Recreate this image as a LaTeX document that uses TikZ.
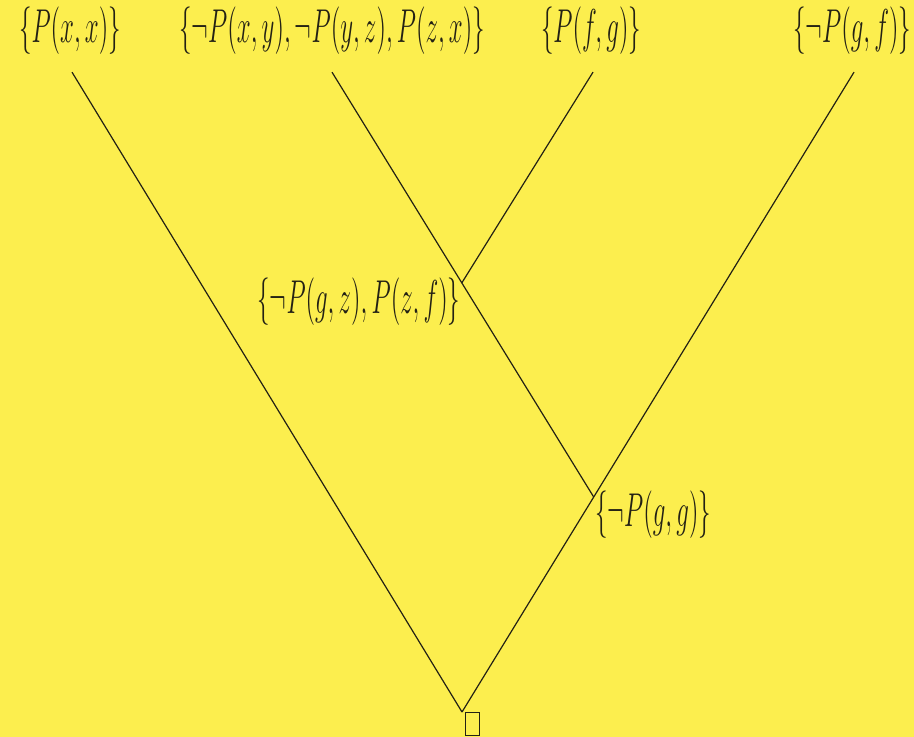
\documentclass[tikz,border=0pt]{standalone}
\usepackage{graphicx}
\usetikzlibrary{calc}
\definecolor{paper}{RGB}{252,238,78}
\definecolor{ink}{RGB}{35,33,20}
\newcommand{\clauseset}[1]{\scalebox{1.04}[1.98]{$\{#1\}$}}

\begin{document}
\begin{tikzpicture}[x=0.5pt, y=-0.5pt,
    clause/.style={font=\fontsize{12}{14}\selectfont, text=ink, inner sep=0pt},
    edge/.style={draw=ink, line width=0.6pt}]
  % background
  \fill[paper] (0,0) rectangle (914,737);
  \useasboundingbox (0,0) rectangle (914,737);

  % input clauses
  \node[clause] (px) at (70,31) {\clauseset{P(x,x)}};
  \node[clause] (trans) at (332,31) {\clauseset{\neg P(x,y), \neg P(y,z), P(z,x)}};
  \node[clause] (pfg) at (591,31) {\clauseset{P(f,g)}};
  \node[clause] (npgf) at (852,31) {\clauseset{\neg P(g,f)}};

  % line ends below the clauses
  \coordinate (pxfoot) at ($(px.south)+(2,17)$);
  \coordinate (transfoot) at ($(trans.south)+(0,17)$);
  \coordinate (pfgfoot) at ($(pfg.south)+(2,17)$);
  \coordinate (npgffoot) at ($(npgf.south)+(2,17)$);

  % resolvents
  \coordinate (root) at (462,712);
  \coordinate (j2) at ($(npgffoot)!0.664!(root)$);
  \coordinate (j1) at ($(transfoot)!0.496!(j2)$);

  \draw[edge] (pxfoot) -- (root);
  \draw[edge] (npgffoot) -- (root);
  \draw[edge] (transfoot) -- (j2);
  \draw[edge] (pfgfoot) -- (j1);

  \node[clause, anchor=north east, xshift=-0.5pt, yshift=2.5pt] (r1) at (j1) {\clauseset{\neg P(g,z), P(z,f)}};
  \node[clause, anchor=north west, xshift=0.5pt, yshift=3.5pt] (r2) at (j2) {\clauseset{\neg P(g,g)}};
  \node[draw=ink, line width=0.6pt, minimum width=7pt, minimum height=11.5pt, inner sep=0pt,
    anchor=north west, xshift=1.5pt] (empty) at (root) {};
\end{tikzpicture}
\end{document}
